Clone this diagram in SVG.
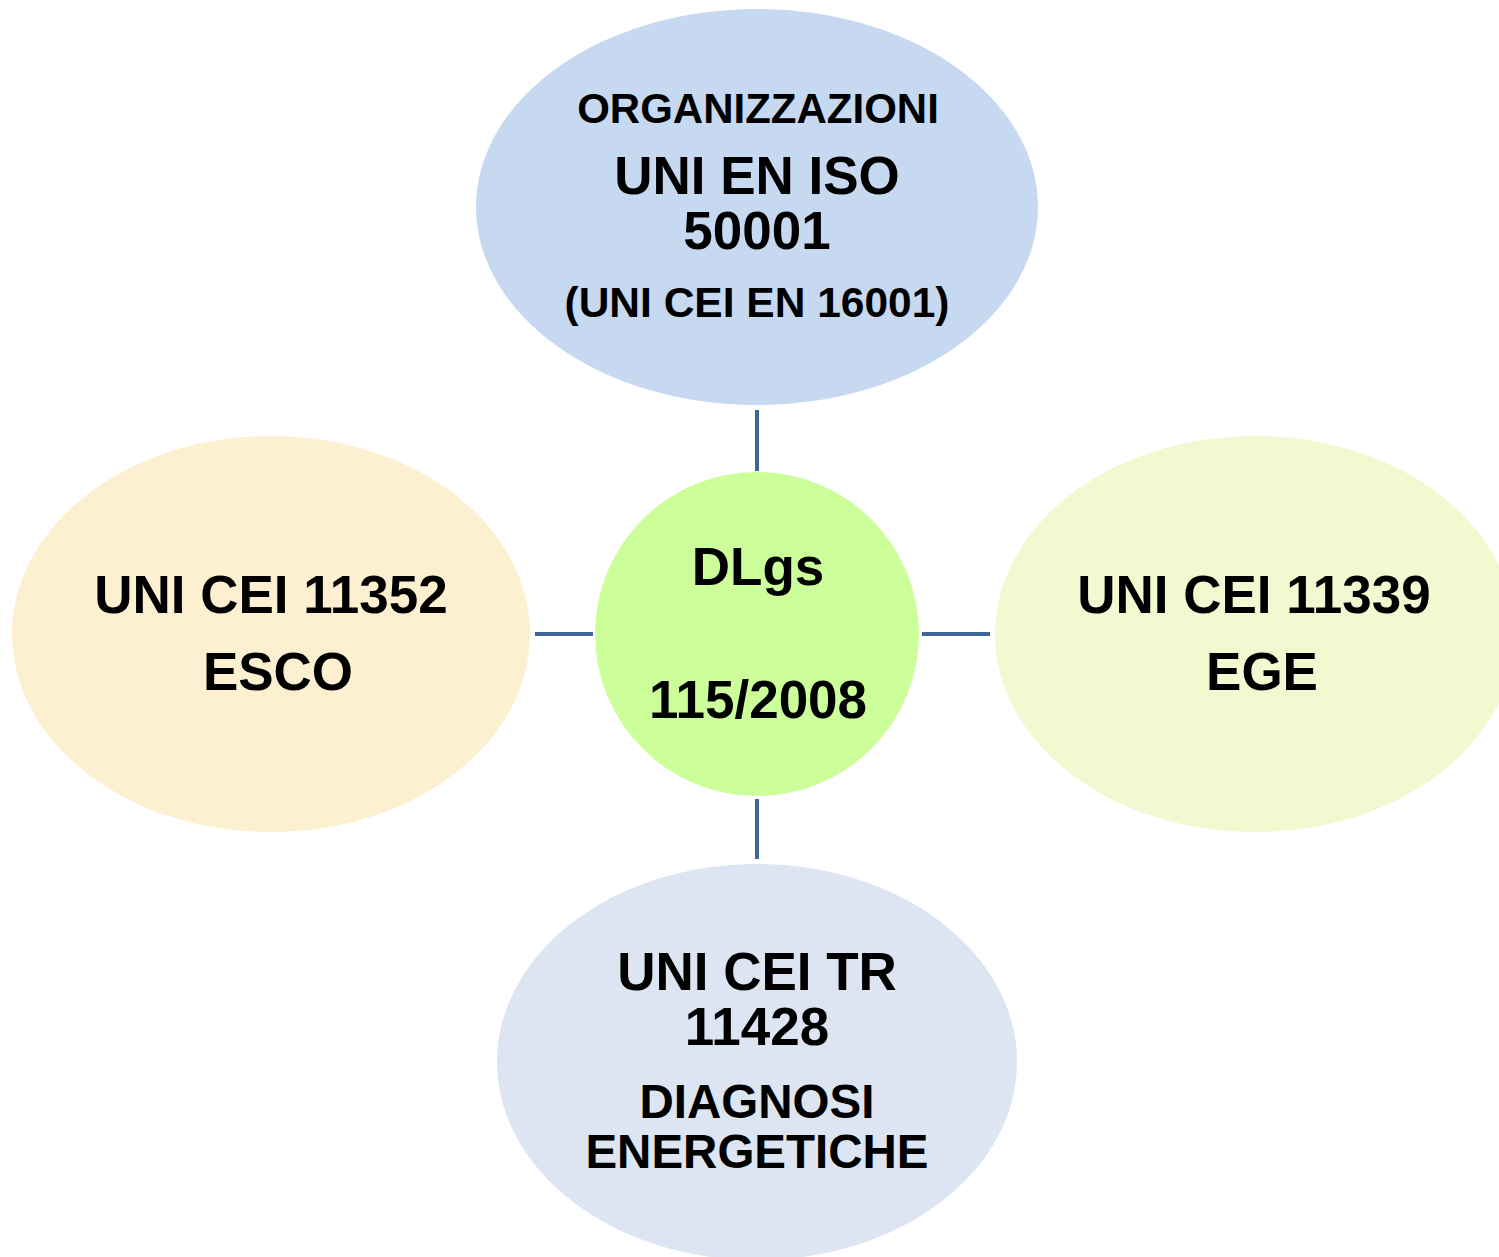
<svg xmlns="http://www.w3.org/2000/svg" width="1499" height="1257" viewBox="0 0 1499 1257">
  <style>
    .lbl { font-family: "Liberation Sans", Arial, sans-serif; font-weight: bold; fill: #000; text-anchor: middle; }
    .link { stroke: #3F6496; stroke-width: 4; fill: none; }
  </style>
  <rect width="1499" height="1257" fill="#fff"/>

  <g id="connectors">
    <line class="link" x1="757" y1="410" x2="757" y2="471"/>
    <line class="link" x1="757" y1="799" x2="757" y2="859"/>
    <line class="link" x1="535" y1="634" x2="593" y2="634"/>
    <line class="link" x1="922" y1="634" x2="990" y2="634"/>
  </g>

  <g id="node-iso50001">
    <ellipse cx="757" cy="207" rx="281" ry="198" fill="#C6D9F0"/>
    <text class="lbl" x="758" y="123" font-size="42">ORGANIZZAZIONI</text>
    <text class="lbl" x="757" y="194" font-size="53">UNI EN ISO</text>
    <text class="lbl" x="757" y="249" font-size="53">50001</text>
    <text class="lbl" x="757" y="317" font-size="42.5">(UNI CEI EN 16001)</text>
  </g>

  <g id="node-esco">
    <ellipse cx="271" cy="634" rx="259" ry="198" fill="#FDF0D0"/>
    <text class="lbl" x="271" y="613" font-size="53">UNI CEI 11352</text>
    <text class="lbl" x="278" y="690" font-size="53">ESCO</text>
  </g>

  <g id="node-ege">
    <ellipse cx="1255" cy="634" rx="260" ry="198" fill="#F2F9D0"/>
    <text class="lbl" x="1254" y="613" font-size="53">UNI CEI 11339</text>
    <text class="lbl" x="1262" y="690" font-size="53">EGE</text>
  </g>

  <g id="node-dlgs">
    <circle cx="757" cy="634" r="162" fill="#CCFF99"/>
    <text class="lbl" x="758" y="585" font-size="53">DLgs</text>
    <text class="lbl" x="758" y="718" font-size="53">115/2008</text>
  </g>

  <g id="node-diagnosi">
    <ellipse cx="757" cy="1062" rx="260" ry="198" fill="#DCE5F1"/>
    <text class="lbl" x="757" y="990" font-size="53">UNI CEI TR</text>
    <text class="lbl" x="757" y="1045" font-size="53">11428</text>
    <text class="lbl" x="757" y="1118" font-size="47.5">DIAGNOSI</text>
    <text class="lbl" x="757" y="1168" font-size="47.5">ENERGETICHE</text>
  </g>
</svg>
